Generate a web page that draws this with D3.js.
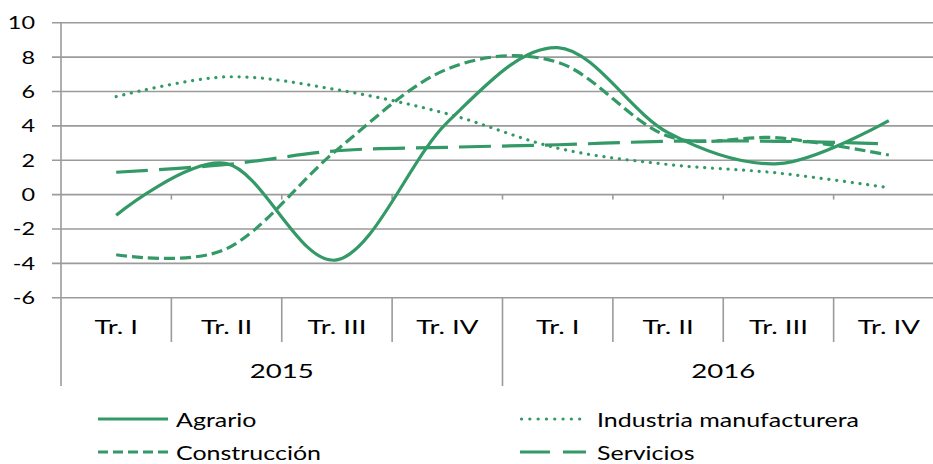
<!DOCTYPE html>
<html>
<head>
<meta charset="utf-8">
<script src="https://d3js.org/d3.v7.min.js"></script>
<style>
  body { margin: 0; background: #fff; }
  svg text { font-family: "Lato", sans-serif; fill: #000; }
</style>
</head>
<body>
<div id="vis"></div>
<script>
// data
var quarters = ["Tr. I", "Tr. II", "Tr. III", "Tr. IV", "Tr. I", "Tr. II", "Tr. III", "Tr. IV"];
var years = ["2015", "2016"];
var agrario = [-1.2, 1.8, -3.8, 4.2, 8.55, 3.6, 1.8, 4.3];
var industria = [5.7, 6.85, 6.1, 4.7, 2.7, 1.75, 1.25, 0.4];
var construccion = [-3.5, -3.15, 2.6, 7.3, 7.7, 3.4, 3.3, 2.3];
var servicios = [1.3, 1.75, 2.55, 2.75, 2.9, 3.1, 3.1, 2.95];
var yTicks = [-6, -4, -2, 0, 2, 4, 6, 8, 10];

var series = [
  {name: "Agrario", values: agrario, dash: null, legDash: null, cap: "butt"},
  {name: "Industria manufacturera", values: industria, dash: "0.1,7.7", legDash: "0.1,8.2", cap: "round"},
  {name: "Construcción", values: construccion, dash: "11,5", legDash: "10,5", cap: "butt"},
  {name: "Servicios", values: servicios, dash: "32,11", legDash: "30,13", cap: "butt"}
];

var W = 933, H = 464;
var green = "#339966", grid = "#9b9b9b";
// the picture is stretched sideways, so the text is too
var stretch = 1.38;
var plotLeft = 61, plotRight = 944, plotTop = 22.7, plotBottom = 297.7;

var svg = d3.select("#vis").append("svg").attr("width", W).attr("height", H);

var x = d3.scaleBand().domain(d3.range(quarters.length)).range([plotLeft, plotRight]);
var y = d3.scaleLinear().domain([-6, 10]).range([plotBottom, plotTop]);

function place(sel, fx, fy, sx) {
  sel.attr("transform", function (d, i) {
    return "translate(" + fx(d, i) + "," + fy(d, i) + ") scale(" + sx + ",1)";
  });
}

// grid lines
svg.append("g").selectAll("line").data(yTicks).enter().append("line")
  .attr("x1", plotLeft - 9).attr("x2", plotRight)
  .attr("y1", function (d) { return y(d); }).attr("y2", function (d) { return y(d); })
  .attr("stroke", grid).attr("stroke-width", 1.6);

// y labels
var yl = svg.append("g").selectAll("text").data(yTicks).enter().append("text")
  .attr("dy", "0.36em").attr("text-anchor", "end")
  .style("font-size", "18px")
  .text(function (d) { return d; });
place(yl, function () { return 35; }, function (d) { return y(d); }, 1.3);

// y axis line
svg.append("line").attr("x1", plotLeft).attr("x2", plotLeft).attr("y1", plotTop).attr("y2", 386)
  .attr("stroke", grid).attr("stroke-width", 1.6);

// small ticks on zero line
svg.append("g").selectAll("line").data(d3.range(1, quarters.length)).enter().append("line")
  .attr("x1", function (d) { return x(d); }).attr("x2", function (d) { return x(d); })
  .attr("y1", y(0)).attr("y2", y(0) + 5)
  .attr("stroke", grid).attr("stroke-width", 1.6);

// category separators
svg.append("g").selectAll("line").data(d3.range(1, quarters.length + 1)).enter().append("line")
  .attr("x1", function (d) { return x(d) || plotRight; }).attr("x2", function (d) { return x(d) || plotRight; })
  .attr("y1", plotBottom).attr("y2", function (d) { return d % 4 == 0 ? 386 : 342; })
  .attr("stroke", grid).attr("stroke-width", 1.6);

// quarter labels
var ql = svg.append("g").selectAll("text").data(quarters).enter().append("text")
  .attr("text-anchor", "middle")
  .style("font-size", "20px")
  .text(function (d) { return d; });
place(ql, function (d, i) { return x(i) + x.bandwidth() / 2; }, function () { return 334; }, stretch);

// year labels
var yr = svg.append("g").selectAll("text").data(years).enter().append("text")
  .attr("text-anchor", "middle")
  .style("font-size", "20px")
  .text(function (d) { return d; });
place(yr, function (d, i) { return x(i * 4) + x.bandwidth() * 2; }, function () { return 378; }, stretch);

// lines
var line = d3.line()
  .x(function (d, i) { return x(i) + x.bandwidth() / 2; })
  .y(function (d) { return y(d); })
  .curve(d3.curveCardinal.tension(0));

svg.append("g").selectAll("path").data(series).enter().append("path")
  .attr("d", function (s) { return line(s.values); })
  .attr("fill", "none").attr("stroke", green)
  .attr("stroke-width", 3.2)
  .attr("stroke-linecap", function (s) { return s.cap; })
  .attr("stroke-dasharray", function (s) { return s.dash; });

// legend
var legPos = [[98, 419], [520, 419], [98, 452], [520, 452]];
var leg = svg.append("g").selectAll("g").data(series).enter().append("g")
  .attr("transform", function (s, i) { return "translate(" + legPos[i][0] + "," + legPos[i][1] + ")"; });
leg.append("line").attr("x1", function (s) { return s.cap == "round" ? 1.5 : 0; })
  .attr("x2", function (s, i) { return i % 2 ? 66 : 70; })
  .attr("stroke", green)
  .attr("stroke-width", 3.2)
  .attr("stroke-linecap", function (s) { return s.cap; })
  .attr("stroke-dasharray", function (s) { return s.legDash; });
var lt = leg.append("text").attr("dy", "0.36em")
  .style("font-size", "18.5px")
  .text(function (s) { return s.name; });
place(lt, function (s, i) { return i % 2 ? 77 : 78; }, function () { return 1; }, 1.35);
</script>
</body>
</html>
